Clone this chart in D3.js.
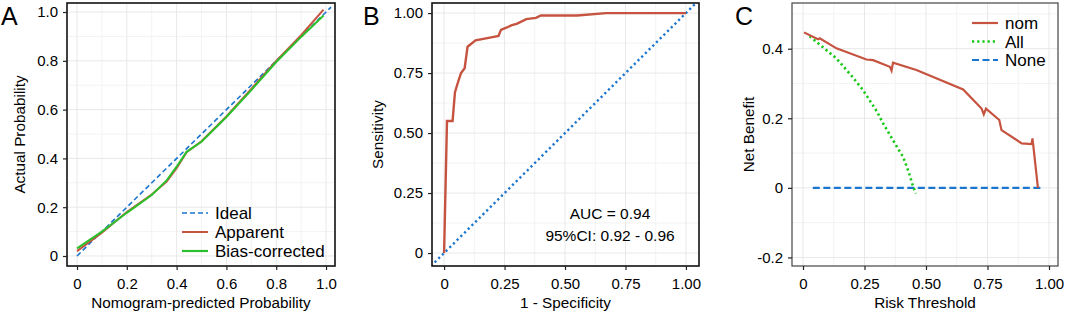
<!DOCTYPE html>
<html lang="en">
<head>
  <meta charset="UTF-8">
  <title>Calibration, ROC and DCA</title>
  <script src="https://d3js.org/d3.v7.min.js"></script>
  <style>
    body { margin: 0; background: #fff; }
    text { font-family: "Liberation Sans", Arial, sans-serif; fill: #000; }
  </style>
</head>
<body>
  <svg width="1065" height="316"></svg>
  <script>
    // --- A: calibration curve
    const idealX = [0, 1.02]
    const idealY = [0, 1.02]
    const calX = [0, 0.1, 0.2, 0.3, 0.36, 0.4, 0.44, 0.5, 0.6, 0.7, 0.8, 0.9, 0.99]
    const apparentY = [0.02, 0.095, 0.18, 0.252, 0.305, 0.36, 0.425, 0.47, 0.572, 0.685, 0.8, 0.905, 1.01]
    const biasY = [0.031, 0.1, 0.177, 0.25, 0.31, 0.366, 0.427, 0.468, 0.57, 0.68, 0.795, 0.898, 0.986]

    // --- B: ROC
    const rocFpr = [0, 0.012, 0.035, 0.045, 0.06, 0.07, 0.085, 0.097, 0.11, 0.13, 0.2, 0.225, 0.235, 0.26, 0.28, 0.3, 0.34, 0.38, 0.4, 0.55, 0.67, 1]
    const rocTpr = [0, 0.55, 0.55, 0.67, 0.72, 0.75, 0.77, 0.86, 0.87, 0.886, 0.9, 0.905, 0.93, 0.94, 0.95, 0.955, 0.975, 0.98, 0.99, 0.99, 1, 1]
    const aucText = ["AUC = 0.94", "95%CI: 0.92 - 0.96"]

    // --- C: decision curve
    const nomX = [0.004, 0.061, 0.068, 0.136, 0.258, 0.285, 0.353, 0.36, 0.366, 0.461, 0.651, 0.726, 0.735, 0.744, 0.798, 0.807, 0.889, 0.929, 0.933, 0.955]
    const nomY = [0.447, 0.427, 0.43, 0.401, 0.369, 0.367, 0.348, 0.337, 0.36, 0.339, 0.283, 0.228, 0.211, 0.228, 0.195, 0.166, 0.128, 0.126, 0.142, 0]
    const allX = [0.027, 0.136, 0.2, 0.244, 0.3, 0.326, 0.38, 0.407, 0.43, 0.448, 0.459]
    const allY = [0.436, 0.372, 0.32, 0.281, 0.22, 0.185, 0.12, 0.089, 0.045, 0.003, -0.016]
    const noneX = [0.04, 0.967]
    const noneY = [0, 0]

    const red = "#c5533f", blue = "#1a75cf", green = "#2cc02c", green2 = "#14c814"

    const svg = d3.select("svg")

    function panel(o) {
      const g = svg.append("g")
      const x = d3.scaleLinear().domain(o.xd).range([o.left, o.right])
      const y = d3.scaleLinear().domain(o.yd).range([o.bottom, o.top])
      // minor + major grid
      o.xminor.forEach(v => g.append("line").attr("x1", x(v)).attr("x2", x(v)).attr("y1", o.top).attr("y2", o.bottom).attr("stroke", "#f3f3f3"))
      o.yminor.forEach(v => g.append("line").attr("y1", y(v)).attr("y2", y(v)).attr("x1", o.left).attr("x2", o.right).attr("stroke", "#f3f3f3"))
      o.xticks.forEach(v => g.append("line").attr("x1", x(v)).attr("x2", x(v)).attr("y1", o.top).attr("y2", o.bottom).attr("stroke", "#e8e8e8"))
      o.yticks.forEach(v => g.append("line").attr("y1", y(v)).attr("y2", y(v)).attr("x1", o.left).attr("x2", o.right).attr("stroke", "#e8e8e8"))

      const clipId = "clip" + o.letter
      svg.append("clipPath").attr("id", clipId).append("rect")
        .attr("x", o.left).attr("y", o.top).attr("width", o.right - o.left).attr("height", o.bottom - o.top)
      o.draw(g.append("g").attr("clip-path", "url(#" + clipId + ")"), x, y)

      g.append("rect").attr("x", o.left).attr("y", o.top).attr("width", o.right - o.left).attr("height", o.bottom - o.top)
        .attr("fill", "none").attr("stroke", o.border).attr("stroke-width", o.bw)

      const xa = g.append("g").attr("transform", "translate(0," + o.bottom + ")")
        .call(d3.axisBottom(x).tickValues(o.xticks).tickFormat((d, i) => o.xlabels[i]).tickSize(4).tickPadding(8))
      const ya = g.append("g").attr("transform", "translate(" + o.left + ",0)")
        .call(d3.axisLeft(y).tickValues(o.yticks).tickFormat((d, i) => o.ylabels[i]).tickSize(4).tickPadding(5))
      ;[xa, ya].forEach(a => {
        a.select(".domain").remove()
        a.selectAll("line").attr("stroke", "#222").attr("stroke-width", 1.2)
        a.selectAll("text").attr("font-size", 15).attr("fill", "#222")
      })
      g.append("text").attr("x", (o.left + o.right) / 2).attr("y", 308).attr("text-anchor", "middle")
        .attr("font-size", 15.3).text(o.xtitle)
      g.append("text").attr("transform", "translate(" + o.ytx + "," + (o.top + o.bottom) / 2 + ") rotate(-90)")
        .attr("text-anchor", "middle").attr("font-size", 15.3).text(o.ytitle)
      g.append("text").attr("x", o.lx).attr("y", 25).attr("font-size", 25).text(o.letter)
      return { g, x, y }
    }

    function line(g, x, y, xs, ys, color, w, dash) {
      const pts = xs.map((v, i) => [v, ys[i]])
      g.append("path").attr("d", d3.line().x(d => x(d[0])).y(d => y(d[1]))(pts))
        .attr("fill", "none").attr("stroke", color).attr("stroke-width", w)
        .attr("stroke-dasharray", dash || null)
    }

    function legend(g, x0, y0, step, items) {
      items.forEach((it, i) => {
        const yy = y0 + i * step
        g.append("line").attr("x1", x0).attr("x2", x0 + 26).attr("y1", yy).attr("y2", yy)
          .attr("stroke", it.color).attr("stroke-width", it.w).attr("stroke-dasharray", it.dash || null)
        g.append("text").attr("x", x0 + 33).attr("y", yy + 6).attr("font-size", 17).text(it.name)
      })
    }

    // Panel A
    const A = panel({
      letter: "A", lx: 1, left: 67, right: 335, top: 3, bottom: 266,
      xd: [-0.0402, 1.036], yd: [-0.041, 1.037],
      border: "#111", bw: 1.6,
      xticks: [0, 0.2, 0.4, 0.6, 0.8, 1], xlabels: ["0", "0.2", "0.4", "0.6", "0.8", "1.0"],
      yticks: [0, 0.2, 0.4, 0.6, 0.8, 1], ylabels: ["0", "0.2", "0.4", "0.6", "0.8", "1.0"],
      xminor: [0.1, 0.3, 0.5, 0.7, 0.9], yminor: [0.1, 0.3, 0.5, 0.7, 0.9],
      xtitle: "Nomogram-predicted Probability", ytitle: "Actual Probability", ytx: 25,
      draw: (g, x, y) => {
        line(g, x, y, idealX, idealY, blue, 1.6, "5,3")
        line(g, x, y, calX, apparentY, red, 2)
        line(g, x, y, calX, biasY, green, 2)
      }
    })
    legend(A.g, 182, 213, 19, [
      { name: "Ideal", color: blue, w: 1.6, dash: "5,3" },
      { name: "Apparent", color: red, w: 2 },
      { name: "Bias-corrected", color: green, w: 2.2 }
    ])

    // Panel B
    const B = panel({
      letter: "B", lx: 363, left: 432, right: 699, top: 3, bottom: 266,
      xd: [-0.05, 1.054], yd: [-0.054, 1.042],
      border: "#111", bw: 1.6,
      xticks: [0, 0.25, 0.5, 0.75, 1], xlabels: ["0", "0.25", "0.50", "0.75", "1.00"],
      yticks: [0, 0.25, 0.5, 0.75, 1], ylabels: ["0", "0.25", "0.50", "0.75", "1.00"],
      xminor: [0.125, 0.375, 0.625, 0.875], yminor: [0.125, 0.375, 0.625, 0.875],
      xtitle: "1 - Specificity", ytitle: "Sensitivity", ytx: 383,
      draw: (g, x, y) => {
        line(g, x, y, [-0.1, 1.1], [-0.1, 1.1], blue, 2.4, "2.2,3")
        line(g, x, y, rocFpr, rocTpr, red, 2.4)
      }
    })
    aucText.forEach((t, i) => B.g.append("text").attr("x", 610).attr("y", 219 + i * 22)
      .attr("text-anchor", "middle").attr("font-size", 15.5).text(t))

    // Panel C
    const C = panel({
      letter: "C", lx: 735, left: 792, right: 1058, top: 3, bottom: 266,
      xd: [-0.0447, 1.0366], yd: [-0.2246, 0.5314],
      border: "#444", bw: 1.2,
      xticks: [0, 0.25, 0.5, 0.75, 1], xlabels: ["0", "0.25", "0.50", "0.75", "1.00"],
      yticks: [-0.2, 0, 0.2, 0.4], ylabels: ["-0.2", "0", "0.2", "0.4"],
      xminor: [0.125, 0.375, 0.625, 0.875], yminor: [-0.1, 0.1, 0.3, 0.5],
      xtitle: "Risk Threshold", ytitle: "Net Benefit", ytx: 754,
      draw: (g, x, y) => {
        line(g, x, y, noneX, noneY, blue, 2.2, "7,3.5")
        line(g, x, y, allX, allY, green2, 2.6, "2.2,3")
        line(g, x, y, nomX, nomY, red, 2.2)
      }
    })
    legend(C.g, 972, 23, 18.5, [
      { name: "nom", color: red, w: 2.2 },
      { name: "All", color: green2, w: 2.6, dash: "2.2,3" },
      { name: "None", color: blue, w: 2.2, dash: "7,3.5" }
    ])
  </script>
</body>
</html>
